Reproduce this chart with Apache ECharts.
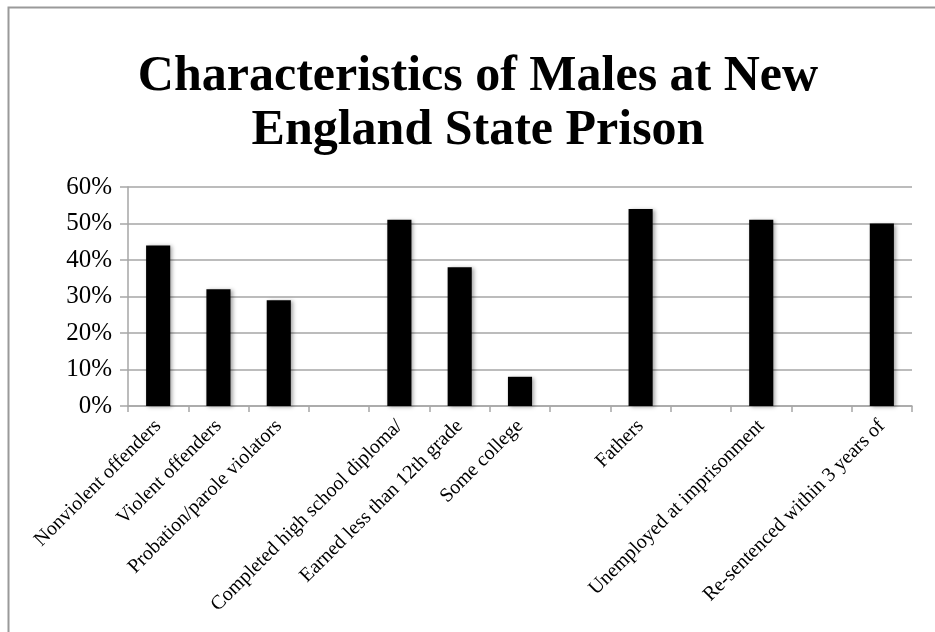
<!DOCTYPE html>
<html>
<head>
<meta charset="utf-8">
<script src="https://cdn.jsdelivr.net/npm/echarts@6/dist/echarts.min.js"></script>
<style>
  html, body { margin: 0; padding: 0; background: #fff; }
  #chart { width: 935px; height: 632px; }
</style>
</head>
<body>
<div id="chart"></div>
<script>
// Category labels; empty strings leave spacer slots between the groups
const categories = [
  'Nonviolent offenders',
  'Violent offenders',
  'Probation/parole violators',
  '',
  'Completed high school diploma/',
  'Earned less than 12th grade',
  'Some college',
  '',
  'Fathers',
  '',
  'Unemployed at imprisonment',
  '',
  'Re-sentenced within 3 years of'
];

// Share of males, in percent (null for spacer slots)
const shares = [44, 32, 29, null, 51, 38, 8, null, 54, null, 51, null, 50];

// Value axis ticks
const yMin = 0;
const yMax = 60;
const yStep = 10;

const titleText = 'Characteristics of Males at New\nEngland State Prison';

const chart = echarts.init(document.getElementById('chart'), null, { renderer: 'canvas' });

const serif = '"Liberation Serif", "DejaVu Serif", serif';
const axisGray = '#a6a6a6';

chart.setOption({
  animation: false,
  backgroundColor: '#ffffff',
  title: {
    text: titleText,
    left: 473,
    textAlign: 'center',
    top: 45,
    textStyle: {
      fontFamily: serif,
      fontWeight: 'bold',
      fontSize: 50,
      lineHeight: 54,
      color: '#000'
    }
  },
  graphic: [
    {
      type: 'rect',
      shape: { x: 8.5, y: 7.5, width: 1000, height: 700 },
      style: { fill: 'none', stroke: '#9a9a9a', lineWidth: 2 },
      silent: true
    }
  ],
  grid: {
    left: 128,
    right: 23,
    top: 187,
    bottom: 226,
    containLabel: false
  },
  xAxis: {
    type: 'category',
    data: categories,
    boundaryGap: true,
    axisLine: { show: true, lineStyle: { color: axisGray, width: 1.5 } },
    axisTick: { show: true, alignWithLabel: false, interval: 0, length: 6, lineStyle: { color: axisGray, width: 1.5 } },
    axisLabel: {
      interval: 0,
      rotate: 45,
      margin: 17,
      fontFamily: serif,
      fontSize: 20,
      color: '#000'
    }
  },
  yAxis: {
    type: 'value',
    min: yMin,
    max: yMax,
    interval: yStep,
    axisLine: { show: true, lineStyle: { color: axisGray, width: 1.5 } },
    axisTick: { show: true, inside: false, length: 8, lineStyle: { color: axisGray, width: 1.5 } },
    splitLine: { show: true, lineStyle: { color: axisGray, width: 1.5 } },
    axisLabel: {
      formatter: v => v + '%',
      margin: 16,
      fontFamily: serif,
      fontSize: 25,
      color: '#000'
    }
  },
  series: [
    {
      type: 'bar',
      data: shares,
      barWidth: '40%',
      itemStyle: {
        color: '#000',
        shadowColor: 'rgba(0,0,0,0.35)',
        shadowBlur: 4,
        shadowOffsetX: 2,
        shadowOffsetY: 1
      }
    }
  ]
});
</script>
</body>
</html>
